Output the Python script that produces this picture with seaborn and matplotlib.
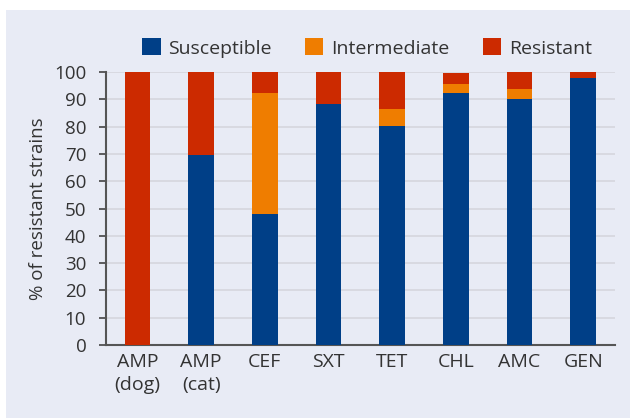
import matplotlib
matplotlib.use("Agg")
import matplotlib.pyplot as plt
import matplotlib.patches as mpatches
import numpy as np
import pandas as pd
import seaborn as sns

categories = ["AMP\n(dog)", "AMP\n(cat)", "CEF", "SXT", "TET", "CHL", "AMC", "GEN"]
susceptible = [0.0, 69.6, 48.0, 88.4, 80.2, 92.3, 90.1, 97.9]
intermediate = [0.0, 0.0, 44.3, 0.0, 6.2, 3.3, 3.7, 0.0]
resistant = [100.0, 30.4, 7.7, 11.6, 13.6, 4.0, 6.2, 2.1]
series_names = ["Susceptible", "Intermediate", "Resistant"]
yticks = list(range(0, 101, 10))

colors = ["#003F87", "#EF7D00", "#CC2A00"]
bg = "#E8EBF5"
txt = "#333333"

sns.set_theme(style="white")
plt.rcParams["font.family"] = ["Open Sans", "DejaVu Sans"]

fig = plt.figure(figsize=(6.3, 4.18), dpi=100)
fig.patch.set_facecolor("white")
fig.patches.append(mpatches.Rectangle((6 / 630, 0), 1 - 6 / 630, 1 - 10 / 418,
                                      transform=fig.transFigure, facecolor=bg,
                                      edgecolor="none", zorder=-10))
ax = fig.add_axes([105.7 / 630, 1 - 345 / 418, (615 - 105.7) / 630, (345 - 72) / 418])
ax.set_facecolor(bg)

df = pd.DataFrame({"cat": categories, "S": susceptible, "I": intermediate, "R": resistant})
s = np.array(susceptible)
i = np.array(intermediate)

sns.barplot(data=df, x="cat", y="S", color=colors[0], width=0.4, ax=ax,
            saturation=1, linewidth=0, zorder=3)
sns.barplot(data=df, x="cat", y="I", color=colors[1], width=0.4, ax=ax,
            saturation=1, linewidth=0, bottom=s, zorder=3)
sns.barplot(data=df, x="cat", y="R", color=colors[2], width=0.4, ax=ax,
            saturation=1, linewidth=0, bottom=s + i, zorder=3)

ax.set_xlim(-0.5, 7.5)
ax.set_ylim(0, 100)
ax.set_yticks(yticks)
ax.set_yticklabels([str(v) for v in yticks], fontsize=13.5, color=txt)
ax.yaxis.grid(True, color="#D5D6DE", linewidth=1.2, zorder=0)
ax.set_axisbelow(True)

ax.set_xticks(range(len(categories)))
ax.set_xticklabels(categories, fontsize=14, color=txt, linespacing=1.3)
ax.set_xticks(np.arange(-0.5, 8.0, 1.0), minor=True)
ax.tick_params(axis="x", which="major", length=0, pad=6)
ax.tick_params(axis="x", which="minor", length=4, width=1.2, color="#444444", direction="out")
ax.tick_params(axis="y", which="major", length=5, width=1.2, color="#444444", pad=9, left=True)

for side in ["top", "right"]:
    ax.spines[side].set_visible(False)
for side in ["left", "bottom"]:
    ax.spines[side].set_color("#555555")
    ax.spines[side].set_linewidth(1.5)

ax.set_xlabel("")
ax.set_ylabel("% of resistant strains", fontsize=13.5, color=txt, labelpad=5)

handles = [mpatches.Patch(facecolor=c, edgecolor="none") for c in colors]
fig.legend(handles, series_names, loc="center", bbox_to_anchor=(367 / 630, 1 - 48 / 418),
           ncol=3, frameon=False, fontsize=14, handlelength=0.95, handleheight=0.95,
           handletextpad=0.4, columnspacing=1.7, labelcolor=txt)

fig.savefig("out.png", dpi=100, facecolor=fig.get_facecolor())
